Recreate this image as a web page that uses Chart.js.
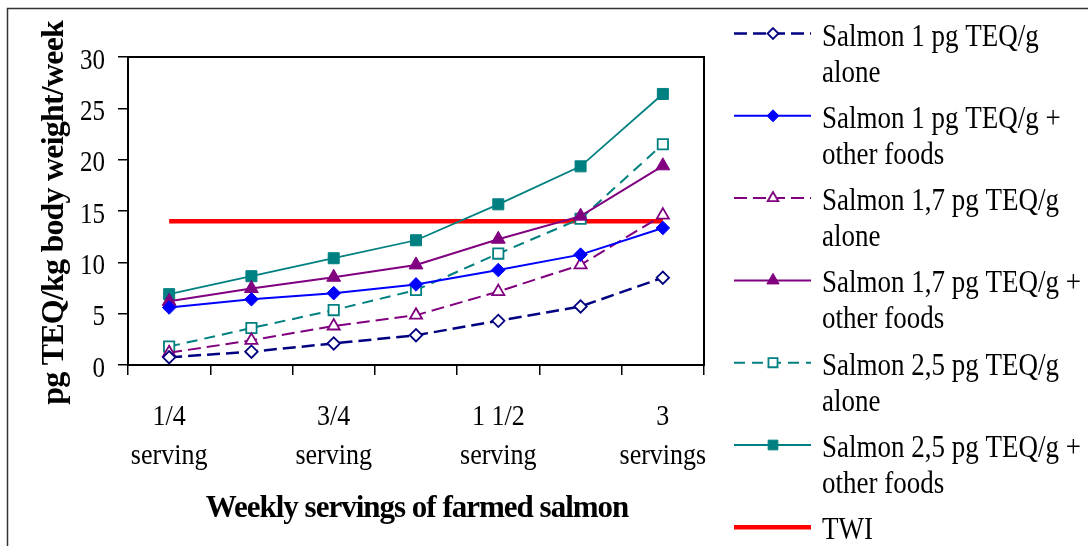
<!DOCTYPE html>
<html>
<head>
<meta charset="utf-8">
<script src="https://cdn.jsdelivr.net/npm/chart.js@4.4.1/dist/chart.umd.min.js"></script>
<style>
  html, body { margin: 0; padding: 0; background: #ffffff; }
  #wrap { width: 1088px; height: 546px; position: relative; }
</style>
</head>
<body>
<div id="wrap"><canvas id="c" width="1088" height="546"></canvas></div>
<script>
// Weekly servings (x categories)
const categories = [
  ["1/4", "serving"], ["1/2", "serving"], ["3/4", "serving"], ["1", "serving"],
  ["1 1/2", "serving"], ["2", "servings"], ["3", "servings"]
];
// Intake, pg TEQ/kg body weight/week
const salmon1Alone   = [0.75, 1.3, 2.1, 2.9, 4.3, 5.7, 8.5];
const salmon1Other   = [5.6, 6.4, 7.0, 7.85, 9.25, 10.75, 13.35];
const salmon17Alone  = [1.2, 2.4, 3.8, 4.85, 7.15, 9.75, 14.6];
const salmon17Other  = [6.2, 7.45, 8.55, 9.75, 12.25, 14.5, 19.4];
const salmon25Alone  = [1.8, 3.6, 5.35, 7.3, 10.85, 14.25, 21.5];
const salmon25Other  = [6.9, 8.65, 10.4, 12.15, 15.65, 19.35, 26.4];
const twi            = [14, 14, 14, 14, 14, 14, 14];
// Legend text, one array of lines per series
const seriesNames = [
  ["Salmon 1 pg TEQ/g", "alone"],
  ["Salmon 1 pg TEQ/g +", "other foods"],
  ["Salmon 1,7 pg TEQ/g", "alone"],
  ["Salmon 1,7 pg TEQ/g +", "other foods"],
  ["Salmon 2,5 pg TEQ/g", "alone"],
  ["Salmon 2,5 pg TEQ/g +", "other foods"],
  ["TWI"]
];
const yTicks = [0, 5, 10, 15, 20, 25, 30];
const xTitle = "Weekly servings of farmed salmon";
const yTitle = "pg TEQ/kg body weight/week";

const FONT = "'Liberation Serif', 'Times New Roman', serif";
// Regular text is drawn slightly condensed (taller than wide)
const STRETCH = 1.17;

function series(label, data, color, width, dash, style, radius, filled) {
  return {
    label, data,
    borderColor: color, backgroundColor: color,
    borderWidth: width, borderDash: dash,
    pointStyle: style || false,
    pointRadius: style ? radius : 0,
    pointBackgroundColor: filled ? color : '#ffffff',
    pointBorderColor: color,
    pointBorderWidth: filled ? 1 : 1.8,
    tension: 0, fill: false
  };
}

const datasets = [
  series(seriesNames[0], salmon1Alone, '#000080', 2.5, [13, 6], 'rectRot', 6.2, false),
  series(seriesNames[1], salmon1Other, '#0000FF', 2, [], 'rectRot', 6.8, true),
  series(seriesNames[2], salmon17Alone, '#800080', 2, [13, 6], 'triangle', 7, false),
  series(seriesNames[3], salmon17Other, '#800080', 2, [], 'triangle', 8, true),
  series(seriesNames[4], salmon25Alone, '#008080', 2, [11, 7], 'rect', 7.3, false),
  series(seriesNames[5], salmon25Other, '#008080', 1.8, [], 'rect', 7.8, true),
  series(seriesNames[6], twi, '#FF0000', 4.5, [], null, 0, true)
];

function stretchedText(ctx, text, x, y, size, align, sy) {
  ctx.save();
  ctx.translate(x, y);
  ctx.scale(1, sy);
  ctx.font = size + 'px ' + FONT;
  ctx.textAlign = align;
  ctx.textBaseline = 'alphabetic';
  ctx.fillText(text, 0, 0);
  ctx.restore();
}

// Plot frame plus the outer border of the figure
const framePlugin = {
  id: 'frame',
  afterDraw(chart) {
    const { ctx, chartArea: a } = chart;
    ctx.save();
    ctx.strokeStyle = '#000';
    ctx.lineWidth = 2;
    ctx.strokeRect(a.left, a.top, a.right - a.left, a.bottom - a.top);
    ctx.strokeStyle = '#333';
    ctx.lineWidth = 1.5;
    ctx.strokeRect(7.5, 8.5, 1200, 600);
    ctx.restore();
  }
};

// Tick labels and axis titles, placed from the chart's own scales
const axisTextPlugin = {
  id: 'axisText',
  afterDraw(chart) {
    const ctx = chart.ctx;
    const xs = chart.scales.x, ys = chart.scales.y;
    const a = chart.chartArea;
    ctx.save();
    ctx.fillStyle = '#000';
    // y tick labels
    yTicks.forEach(v => {
      stretchedText(ctx, String(v), a.left - 23, ys.getPixelForValue(v) + 11.5, 25, 'right', 1.18);
    });
    // x tick labels, every second category
    categories.forEach((lines, i) => {
      if (i % 2 !== 0) return;
      const x = xs.getPixelForValue(i);
      lines.forEach((t, k) => {
        stretchedText(ctx, t, x, a.bottom + 60 + k * 38.5, 26, 'center', 1.14);
      });
    });
    // x title
    ctx.font = 'bold 31px ' + FONT;
    ctx.letterSpacing = '-1px';
    ctx.textAlign = 'center';
    ctx.textBaseline = 'alphabetic';
    ctx.fillText(xTitle, (a.left + a.right) / 2 + 1, 516.7);
    // y title
    ctx.save();
    ctx.translate(63.3, 212.8);
    ctx.rotate(-Math.PI / 2);
    ctx.font = 'bold 32px ' + FONT;
    ctx.letterSpacing = '-0.8px';
    ctx.fillText(yTitle, 0, 0);
    ctx.restore();
    ctx.restore();
  }
};

function marker(ctx, style, r, x, y) {
  ctx.beginPath();
  if (style === 'rectRot') {
    ctx.moveTo(x, y - r); ctx.lineTo(x + r, y); ctx.lineTo(x, y + r); ctx.lineTo(x - r, y);
  } else if (style === 'triangle') {
    const h = r * 1.5, w = r * Math.sqrt(3) / 2;
    ctx.moveTo(x, y - r); ctx.lineTo(x + w, y + h - r); ctx.lineTo(x - w, y + h - r);
  } else if (style === 'rect') {
    const s = r * Math.SQRT1_2;
    ctx.rect(x - s, y - s, 2 * s, 2 * s);
  }
  ctx.closePath();
  ctx.fill();
  ctx.stroke();
}

// Legend on the right, two lines of text per series
const legendPlugin = {
  id: 'sideLegend',
  afterDraw(chart) {
    const ctx = chart.ctx;
    const x0 = 734, x1 = 811, xm = 773, tx = 822;
    const lineY0 = 33.5, textY0 = 45.5, step = 82.3, lineGap = 36;
    ctx.save();
    chart.data.datasets.forEach((ds, i) => {
      const y = lineY0 + i * step;
      ctx.strokeStyle = ds.borderColor;
      ctx.lineWidth = ds.borderWidth;
      ctx.setLineDash(ds.borderDash || []);
      ctx.beginPath(); ctx.moveTo(x0, y); ctx.lineTo(x1, y); ctx.stroke();
      ctx.setLineDash([]);
      if (ds.pointStyle) {
        ctx.fillStyle = ds.pointBackgroundColor;
        ctx.strokeStyle = ds.pointBorderColor;
        ctx.lineWidth = ds.pointBorderWidth;
        marker(ctx, ds.pointStyle, ds.pointRadius * 0.88, xm, y);
      }
      ctx.fillStyle = '#000';
      ds.label.forEach((t, k) => stretchedText(ctx, t, tx, textY0 + i * step + k * lineGap, 27, 'left', STRETCH));
    });
    ctx.restore();
  }
};

new Chart(document.getElementById('c'), {
  type: 'line',
  data: { labels: categories, datasets },
  plugins: [framePlugin, axisTextPlugin, legendPlugin],
  options: {
    responsive: false,
    animation: false,
    layout: { padding: { left: 0, top: 57, right: 384, bottom: 0 } },
    plugins: { legend: { display: false }, tooltip: { enabled: false } },
    scales: {
      x: {
        type: 'category',
        offset: true,
        grid: { offset: true, drawOnChartArea: false, drawTicks: true, tickLength: 10, color: '#000', lineWidth: 1.5 },
        border: { display: true, color: '#000', width: 2 },
        ticks: { display: false, autoSkip: false },
        afterFit: s => { s.height = 181; }
      },
      y: {
        min: 0, max: 30,
        afterBuildTicks: s => { s.ticks = yTicks.map(v => ({ value: v })); },
        grid: { drawOnChartArea: false, drawTicks: true, tickLength: 10, color: '#000', lineWidth: 1.5 },
        border: { display: true, color: '#000', width: 2 },
        ticks: { display: false },
        afterFit: s => { s.width = 128; }
      }
    }
  }
});
</script>
</body>
</html>
